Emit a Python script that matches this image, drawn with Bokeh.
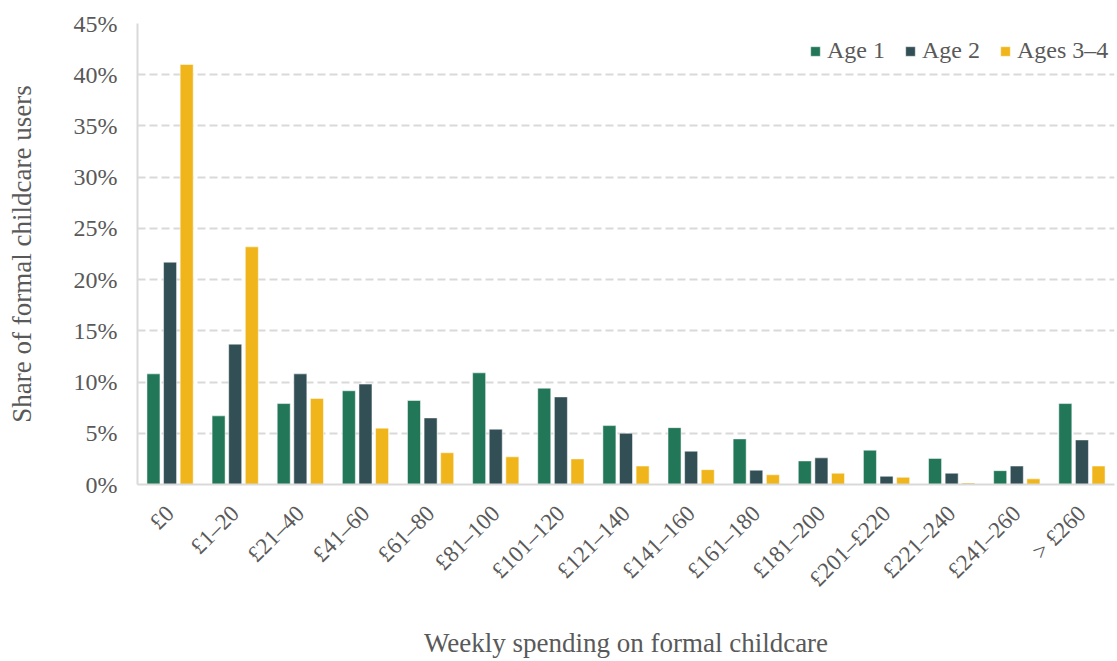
import math
from bokeh.plotting import figure
from bokeh.models import ColumnDataSource, PrintfTickFormatter, FixedTicker, Range1d
from bokeh.transform import dodge
from bokeh.embed import file_html
from bokeh.resources import INLINE

categories = ["£0", "£1–20", "£21–40", "£41–60", "£61–80", "£81–100", "£101–120",
              "£121–140", "£141–160", "£161–180", "£181–200", "£201–£220",
              "£221–240", "£241–260", "> £260"]
age1 = [10.8, 6.7, 7.9, 9.15, 8.2, 10.9, 9.4, 5.75, 5.55, 4.45, 2.3, 3.35, 2.55, 1.35, 7.9]
age2 = [21.7, 13.7, 10.8, 9.8, 6.5, 5.4, 8.55, 5.0, 3.25, 1.4, 2.6, 0.8, 1.1, 1.8, 4.35]
ages34 = [41.0, 23.2, 8.4, 5.5, 3.1, 2.7, 2.5, 1.8, 1.45, 0.95, 1.1, 0.7, 0.15, 0.55, 1.8]
y_ticks = [0, 5, 10, 15, 20, 25, 30, 35, 40, 45]

series_names = ["Age 1", "Age 2", "Ages 3–4"]
colors = ["#237759", "#324F55", "#F0B51A"]

src = ColumnDataSource(dict(cat=categories, a1=age1, a2=age2, a3=ages34))

FONT = "Liberation Serif"
GREY = "#595959"

p = figure(x_range=categories, y_range=Range1d(0, 45), width=1117, height=661,
           output_backend="svg", toolbar_location=None,
           min_border_left=137, min_border_right=3, min_border_top=23,
           min_border_bottom=177)
p.outline_line_color = None

offsets = [-0.255, 0.0, 0.255]
for col, off, name, c in zip(["a1", "a2", "a3"], offsets, series_names, colors):
    p.vbar(x=dodge("cat", off, range=p.x_range), top=col, width=0.2, source=src,
           fill_color=c, line_color="white", line_alpha=0.5, line_width=1,
           legend_label=name)

p.xgrid.grid_line_color = None
p.ygrid.grid_line_color = "#d9d9d9"
p.ygrid.grid_line_width = 2
p.ygrid.grid_line_dash = "8 4"

p.yaxis.ticker = FixedTicker(ticks=y_ticks)
p.yaxis.formatter = PrintfTickFormatter(format="%d%%")

for ax in (p.xaxis[0], p.yaxis[0]):
    ax.axis_line_color = "#d9d9d9"
    ax.axis_line_width = 2
    ax.major_tick_line_color = None
    ax.minor_tick_line_color = None
    ax.major_label_text_font = FONT
    ax.major_label_text_color = GREY
    ax.axis_label_text_font = FONT
    ax.axis_label_text_color = GREY
    ax.axis_label_text_font_style = "normal"
    ax.axis_label_text_font_size = "27px"

p.yaxis.major_label_text_font_size = "24px"
p.yaxis.major_label_standoff = 14
p.yaxis.axis_label = "Share of formal childcare users"
p.yaxis.axis_label_standoff = 34

p.xaxis.major_label_text_font_size = "23px"
p.xaxis.major_label_orientation = math.pi / 4
p.xaxis.major_label_standoff = 19
p.xaxis.axis_label = "Weekly spending on formal childcare"
p.xaxis.axis_label_standoff = 25

lg = p.legend[0]
lg.location = (672, 420)
lg.orientation = "horizontal"
lg.border_line_color = None
lg.background_fill_alpha = 0
lg.label_text_font = FONT
lg.label_text_font_size = "24px"
lg.label_text_color = GREY
lg.glyph_width = 12
lg.glyph_height = 12
lg.label_standoff = 6
lg.spacing = 19
lg.margin = 0
lg.padding = 0

open("out.html", "w").write(file_html(p, INLINE))
